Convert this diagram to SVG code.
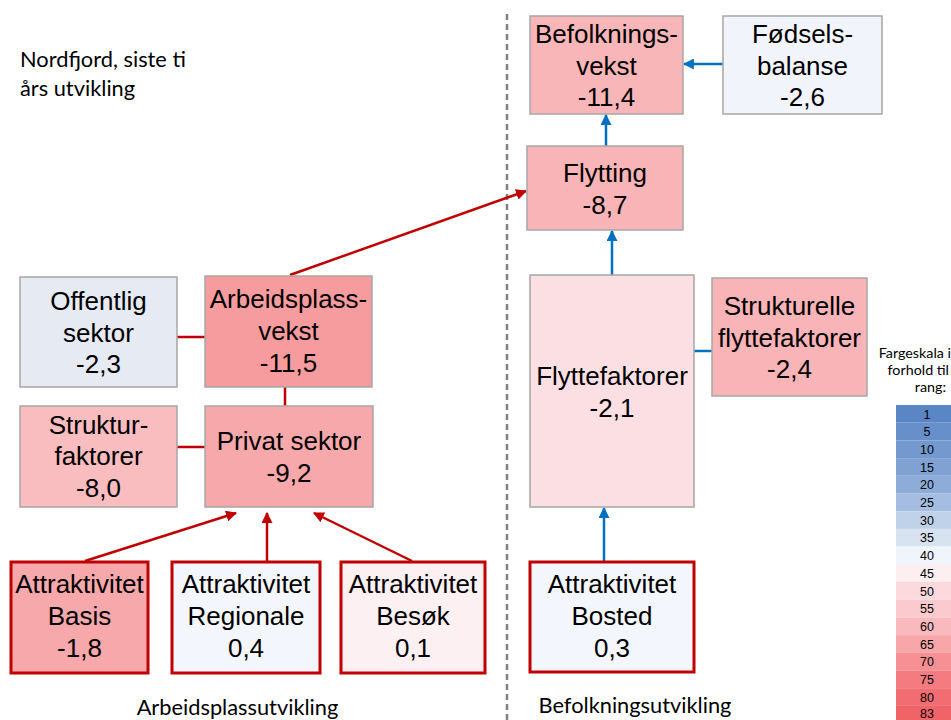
<svg xmlns="http://www.w3.org/2000/svg" width="951" height="720" viewBox="0 0 951 720">
<style>
.n{stroke:#A6A6A6;stroke-width:1.5}
.a{stroke:#C00000;stroke-width:3}
.t{font-family:"Liberation Sans",Arial,sans-serif;font-size:26px;fill:#000;text-anchor:middle}
.c{font-family:Lato,"Open Sans",sans-serif;fill:#000}
.r{stroke:#C00000;stroke-width:2.5;fill:none}
.b{stroke:#0070C0;stroke-width:2.5;fill:none}
.s{font-family:"Liberation Sans",Arial,sans-serif;font-size:12.5px;fill:#000;text-anchor:middle}
</style>
<defs>
<marker id="mr" viewBox="0 0 10 10" refX="9" refY="5" markerWidth="4.4" markerHeight="4.4" orient="auto" markerUnits="strokeWidth"><path d="M0,0L10,5L0,10z" fill="#C00000"/></marker>
<marker id="mb" viewBox="0 0 10 10" refX="9" refY="5" markerWidth="4.4" markerHeight="4.4" orient="auto" markerUnits="strokeWidth"><path d="M0,0L10,5L0,10z" fill="#0070C0"/></marker>
</defs>
<rect width="951" height="720" fill="#fff"/>
<line x1="507" y1="14" x2="507" y2="720" stroke="#808080" stroke-width="2.5" stroke-dasharray="6,4"/>
<g id="title"><text class="c" font-size="21.8" x="20" y="67">Nordfjord, siste ti</text><text class="c" font-size="21.8" x="20" y="96">års utvikling</text></g>
<g id="connectors">
<line class="r" x1="290" y1="275" x2="526" y2="191" marker-end="url(#mr)"/>
<line class="r" x1="177" y1="337" x2="205" y2="337"/>
<line class="r" x1="285" y1="387" x2="285" y2="406"/>
<line class="r" x1="177" y1="447" x2="205" y2="447"/>
<line class="r" x1="85" y1="561" x2="236" y2="513" marker-end="url(#mr)"/>
<line class="r" x1="267" y1="561" x2="267" y2="513" marker-end="url(#mr)"/>
<line class="r" x1="412" y1="561" x2="314" y2="513" marker-end="url(#mr)"/>
<line class="b" x1="723" y1="64" x2="684" y2="64" marker-end="url(#mb)"/>
<line class="b" x1="606" y1="146" x2="606" y2="115" marker-end="url(#mb)"/>
<line class="b" x1="612" y1="275" x2="612" y2="231" marker-end="url(#mb)"/>
<line class="b" x1="694" y1="351" x2="712" y2="351"/>
<line class="b" x1="604" y1="561" x2="604" y2="508" marker-end="url(#mb)"/>
</g>
<g id="befolkningsvekst"><rect class="n" x="530" y="16" width="153" height="98" fill="#F8B6B8"/><text class="t" x="606.5" y="43">Befolknings-</text><text class="t" x="606.5" y="74.5">vekst</text><text class="t" x="606.5" y="106">-11,4</text></g>
<g id="fodselsbalanse"><rect class="n" x="723" y="16" width="159" height="98" fill="#F2F4FC"/><text class="t" x="802.5" y="43">Fødsels-</text><text class="t" x="802.5" y="74.5">balanse</text><text class="t" x="802.5" y="106">-2,6</text></g>
<g id="flytting"><rect class="n" x="527" y="146" width="156" height="84" fill="#F8B4B6"/><text class="t" x="605" y="182">Flytting</text><text class="t" x="605" y="213.5">-8,7</text></g>
<g id="flyttefaktorer"><rect class="n" x="530" y="275" width="164" height="232" fill="#FBDFE2"/><text class="t" x="612" y="385">Flyttefaktorer</text><text class="t" x="612" y="416.5">-2,1</text></g>
<g id="strukturelle"><rect class="n" x="712" y="278" width="155" height="118" fill="#F8B4B6"/><text class="t" x="789.5" y="315">Strukturelle</text><text class="t" x="789.5" y="346.5">flyttefaktorer</text><text class="t" x="789.5" y="378">-2,4</text></g>
<g id="bosted"><rect class="a" x="530" y="562" width="164" height="110" fill="#F3F6FC"/><text class="t" x="612" y="593">Attraktivitet</text><text class="t" x="612" y="625">Bosted</text><text class="t" x="612" y="657">0,3</text></g>
<g id="offentlig"><rect class="n" x="20" y="277" width="157" height="110" fill="#E6EAF2"/><text class="t" x="98.5" y="310">Offentlig</text><text class="t" x="98.5" y="341.5">sektor</text><text class="t" x="98.5" y="373">-2,3</text></g>
<g id="arbeidsplassvekst"><rect class="n" x="205" y="276" width="167" height="111" fill="#F79C9E"/><text class="t" x="288.5" y="308">Arbeidsplass-</text><text class="t" x="288.5" y="340">vekst</text><text class="t" x="288.5" y="372">-11,5</text></g>
<g id="strukturfaktorer"><rect class="n" x="20" y="406" width="157" height="101" fill="#F9BCBF"/><text class="t" x="98.5" y="434">Struktur-</text><text class="t" x="98.5" y="465">faktorer</text><text class="t" x="98.5" y="497">-8,0</text></g>
<g id="privat"><rect class="n" x="205" y="406" width="168" height="101" fill="#F7A8AB"/><text class="t" x="289" y="450">Privat sektor</text><text class="t" x="289" y="482">-9,2</text></g>
<g id="basis"><rect class="a" x="11" y="562" width="137" height="111" fill="#F7A8AB"/><text class="t" x="79.5" y="593">Attraktivitet</text><text class="t" x="79.5" y="625">Basis</text><text class="t" x="79.5" y="657">-1,8</text></g>
<g id="regionale"><rect class="a" x="172" y="562" width="148" height="111" fill="#F3F6FC"/><text class="t" x="246" y="593">Attraktivitet</text><text class="t" x="246" y="625">Regionale</text><text class="t" x="246" y="657">0,4</text></g>
<g id="besok"><rect class="a" x="341" y="562" width="144" height="111" fill="#FCF0F3"/><text class="t" x="413" y="593">Attraktivitet</text><text class="t" x="413" y="625">Besøk</text><text class="t" x="413" y="657">0,1</text></g>
<g id="labels"><text class="c" font-size="21.8" x="237.5" y="715" text-anchor="middle">Arbeidsplassutvikling</text><text class="c" font-size="21.8" x="635" y="713" text-anchor="middle">Befolkningsutvikling</text></g>
<g id="legend">
<text class="c" font-size="14.3" x="951" y="358" text-anchor="end">Fargeskala i</text>
<text class="c" font-size="14.3" x="949" y="375" text-anchor="end">forhold til</text>
<text class="c" font-size="14.3" x="946" y="392" text-anchor="end">rang:</text>
<rect x="896" y="405" width="55" height="17.7" fill="#5A86C5"/>
<rect x="896" y="422.7" width="55" height="17.7" fill="#6790CB"/>
<rect x="896" y="440.4" width="55" height="17.7" fill="#7399CF"/>
<rect x="896" y="458.1" width="55" height="17.7" fill="#80A2D3"/>
<rect x="896" y="475.8" width="55" height="17.7" fill="#8EACD8"/>
<rect x="896" y="493.5" width="55" height="17.7" fill="#A4BDE0"/>
<rect x="896" y="511.2" width="55" height="17.7" fill="#C0D2EA"/>
<rect x="896" y="528.9" width="55" height="17.7" fill="#D8E3F2"/>
<rect x="896" y="546.6" width="55" height="17.7" fill="#F0F4FB"/>
<rect x="896" y="564.3" width="55" height="17.7" fill="#FCEEF1"/>
<rect x="896" y="582" width="55" height="17.7" fill="#FBD9DD"/>
<rect x="896" y="599.7" width="55" height="17.7" fill="#FACACF"/>
<rect x="896" y="617.4" width="55" height="17.7" fill="#F9B9BD"/>
<rect x="896" y="635.1" width="55" height="17.7" fill="#F8A6AA"/>
<rect x="896" y="652.8" width="55" height="17.7" fill="#F69094"/>
<rect x="896" y="670.5" width="55" height="17.7" fill="#F47B80"/>
<rect x="896" y="688.2" width="55" height="17.7" fill="#F26D71"/>
<rect x="896" y="705.9" width="55" height="17.7" fill="#F06468"/>
<text class="s" x="927" y="418.5">1</text>
<text class="s" x="927" y="436.2">5</text>
<text class="s" x="927" y="453.9">10</text>
<text class="s" x="927" y="471.6">15</text>
<text class="s" x="927" y="489.3">20</text>
<text class="s" x="927" y="507">25</text>
<text class="s" x="927" y="524.7">30</text>
<text class="s" x="927" y="542.4">35</text>
<text class="s" x="927" y="560.1">40</text>
<text class="s" x="927" y="577.8">45</text>
<text class="s" x="927" y="595.5">50</text>
<text class="s" x="927" y="613.2">55</text>
<text class="s" x="927" y="630.9">60</text>
<text class="s" x="927" y="648.6">65</text>
<text class="s" x="927" y="666.3">70</text>
<text class="s" x="927" y="684">75</text>
<text class="s" x="927" y="701.7">80</text>
<text class="s" x="927" y="718">83</text>
</g>
</svg>
